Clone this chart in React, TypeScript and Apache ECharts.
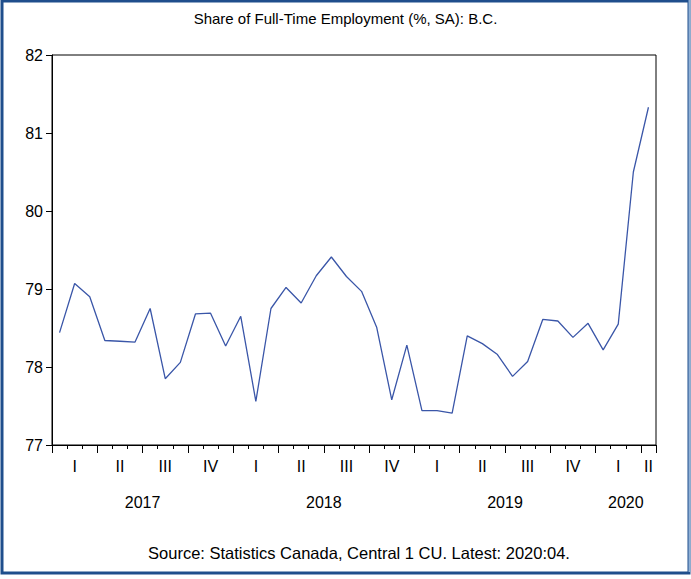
import React, { useEffect, useRef } from "react";
import * as echarts from "echarts";

const months = [
  "2017-01","2017-02","2017-03","2017-04","2017-05","2017-06","2017-07","2017-08","2017-09","2017-10","2017-11","2017-12",
  "2018-01","2018-02","2018-03","2018-04","2018-05","2018-06","2018-07","2018-08","2018-09","2018-10","2018-11","2018-12",
  "2019-01","2019-02","2019-03","2019-04","2019-05","2019-06","2019-07","2019-08","2019-09","2019-10","2019-11","2019-12",
  "2020-01","2020-02","2020-03","2020-04",
];

const fullTimeShare = [
  78.44, 79.07, 78.90, 78.34, 78.33, 78.32, 78.75, 77.85, 78.06, 78.68, 78.69, 78.27,
  78.65, 77.56, 78.75, 79.02, 78.82, 79.17, 79.41, 79.16, 78.97, 78.51, 77.58, 78.28,
  77.44, 77.44, 77.41, 78.40, 78.30, 78.16, 77.88, 78.07, 78.61, 78.59, 78.38, 78.56,
  78.22, 78.55, 80.50, 81.33,
];

const quarterLabels = ["I", "II", "III", "IV"];
const yearLabels = ["2017", "2018", "2019", "2020"];
const yearCenters = [6, 18, 30, 38];

const FONT = "'Liberation Sans', Arial, sans-serif";

export default function App() {
  const ref = useRef<HTMLDivElement>(null);
  useEffect(() => {
    if (!ref.current) return;
    const chart = echarts.init(ref.current, null, { renderer: "svg" });
    const n = months.length;
    chart.setOption({
      animation: false,
      backgroundColor: "#fff",
      textStyle: { fontFamily: FONT },
      title: [
        {
          text: "Share of Full-Time Employment (%, SA): B.C.",
          left: "center",
          top: 6,
          textStyle: { fontSize: 15, fontWeight: "normal", color: "#000", fontFamily: FONT },
        },
        {
          text: "Source: Statistics Canada, Central 1 CU. Latest: 2020:04.",
          left: 354,
          textAlign: "center",
          top: 539,
          textStyle: { fontSize: 16.5, fontWeight: "normal", color: "#000", fontFamily: FONT },
        },
      ],
      grid: {
        left: 52,
        right: 35,
        top: 55,
        bottom: 134,
        show: true,
        borderColor: "#000",
        borderWidth: 1,
        backgroundColor: "#fff",
      },
      xAxis: [
        {
          type: "category",
          data: months,
          boundaryGap: true,
          axisLine: { show: true, lineStyle: { color: "#000", width: 1 } },
          axisTick: { show: true, interval: 0, length: 4, lineStyle: { color: "#000" } },
          axisLabel: {
            interval: 0,
            margin: 13,
            fontSize: 16,
            color: "#000",
            fontFamily: FONT,
            formatter: (_v: string, i: number) => {
              const m = i % 12;
              if (i === n - 1) return quarterLabels[Math.floor(m / 3)];
              return m % 3 === 1 ? quarterLabels[Math.floor(m / 3)] : "";
            },
          },
          splitLine: { show: false },
        },
        {
          type: "value",
          min: 0,
          max: n,
          interval: 3,
          position: "bottom",
          axisLine: { show: false },
          axisTick: { show: true, length: 8, lineStyle: { color: "#000" } },
          axisLabel: { show: false },
          splitLine: { show: false },
        },
        {
          type: "value",
          min: 0,
          max: n,
          interval: 1,
          position: "bottom",
          axisLine: { show: false },
          axisTick: { show: false },
          axisLabel: {
            show: true,
            margin: 49,
            fontSize: 16,
            color: "#000",
            fontFamily: FONT,
            formatter: (v: number) => {
              const k = yearCenters.indexOf(Math.round(v));
              return k >= 0 ? yearLabels[k] : "";
            },
          },
          splitLine: { show: false },
        },
      ],
      yAxis: {
        type: "value",
        min: 77,
        max: 82,
        interval: 1,
        axisLine: { show: true, lineStyle: { color: "#000", width: 1 } },
        axisTick: { show: true, length: 6, lineStyle: { color: "#000" } },
        axisLabel: { margin: 9, fontSize: 16, color: "#000", fontFamily: FONT },
        splitLine: { show: false },
      },
      series: [
        {
          type: "line",
          data: fullTimeShare,
          xAxisIndex: 0,
          yAxisIndex: 0,
          showSymbol: false,
          symbol: "none",
          lineStyle: { color: "#3a56a8", width: 1.3 },
        },
      ],
      graphic: [
        {
          type: "rect",
          shape: { x: 2, y: 1, width: 687, height: 572 },
          style: { fill: "none", stroke: "#1f4e8c", lineWidth: 3 },
          silent: true,
        },
        {
          type: "line",
          shape: { x1: 689.5, y1: 0, x2: 689.5, y2: 572 },
          style: { stroke: "#8fb0d6", lineWidth: 2 },
          silent: true,
        },
      ],
    });
    return () => chart.dispose();
  }, []);
  return (
    <div
      ref={ref}
      style={{ position: "fixed", left: 0, top: 0, width: 691, height: 579 }}
    />
  );
}
